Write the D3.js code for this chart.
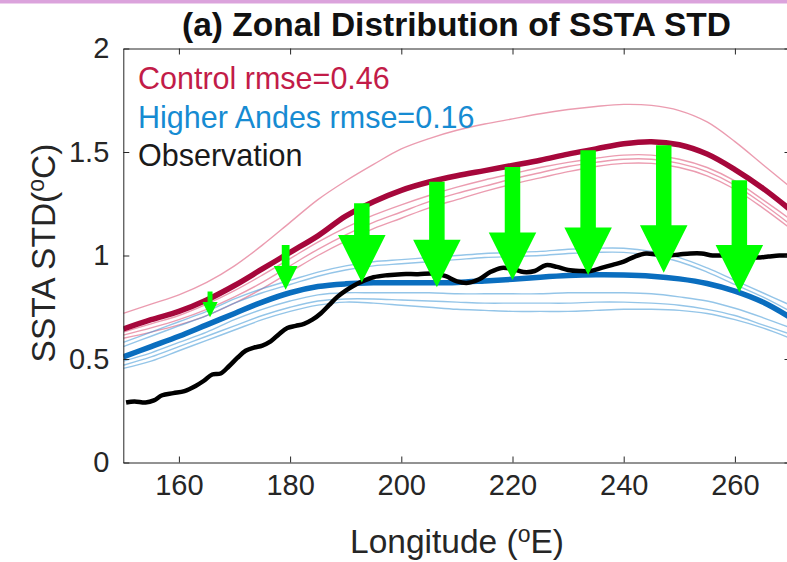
<!DOCTYPE html>
<html>
<head>
<meta charset="utf-8">
<script src="https://cdn.jsdelivr.net/npm/d3@7"></script>
<style>
  html, body { margin: 0; padding: 0; background: #fff; overflow: hidden; }
  text { font-family: "Liberation Sans", Arial, Helvetica, sans-serif; }
</style>
</head>
<body>
<svg id="chart" width="787" height="562"></svg>
<script>
// Longitude grid (°E) shared by the model curves
const lon = [150,155,160,165,170,175,180,185,190,195,200,205,210,215,220,225,230,235,240,245,250,255,260,265,270];

// Control ensemble mean and individual members (SSTA STD, °C)
const controlMean = [0.645,0.69,0.73,0.785,0.855,0.935,1.015,1.095,1.19,1.26,1.315,1.355,1.385,1.41,1.435,1.46,1.49,1.515,1.54,1.55,1.535,1.49,1.415,1.325,1.22];
const controlRun1 = [0.72,0.765,0.81,0.87,0.95,1.05,1.16,1.27,1.36,1.44,1.515,1.565,1.605,1.635,1.66,1.685,1.705,1.72,1.73,1.725,1.70,1.645,1.55,1.44,1.33];
const controlRun2 = [0.63,0.67,0.71,0.765,0.83,0.905,0.985,1.065,1.135,1.195,1.245,1.29,1.33,1.365,1.395,1.425,1.45,1.47,1.485,1.485,1.465,1.425,1.36,1.27,1.175];
const controlRun3 = [0.615,0.65,0.69,0.74,0.80,0.87,0.95,1.03,1.10,1.16,1.21,1.26,1.30,1.335,1.37,1.40,1.43,1.45,1.465,1.465,1.445,1.405,1.34,1.25,1.15];
const controlRun4 = [0.60,0.63,0.665,0.71,0.77,0.84,0.92,1.00,1.07,1.13,1.18,1.23,1.27,1.31,1.345,1.375,1.405,1.43,1.445,1.445,1.425,1.385,1.32,1.23,1.13];

// Higher Andes ensemble mean and individual members
const andesMean = [0.51,0.56,0.61,0.665,0.72,0.775,0.82,0.85,0.863,0.868,0.868,0.868,0.87,0.877,0.885,0.895,0.903,0.907,0.906,0.90,0.887,0.865,0.828,0.775,0.70];
const andesRun1 = [0.58,0.63,0.68,0.73,0.79,0.84,0.88,0.92,0.95,0.97,0.98,0.99,1.00,1.01,1.015,1.02,1.03,1.035,1.035,1.02,0.99,0.94,0.88,0.82,0.76];
const andesRun2 = [0.56,0.61,0.66,0.71,0.77,0.82,0.86,0.90,0.93,0.95,0.96,0.97,0.98,0.99,0.995,1.00,1.01,1.015,1.015,1.00,0.97,0.92,0.86,0.80,0.73];
const andesRun3 = [0.49,0.53,0.58,0.63,0.69,0.74,0.78,0.81,0.82,0.82,0.82,0.82,0.815,0.815,0.815,0.815,0.82,0.82,0.82,0.815,0.80,0.78,0.745,0.70,0.65];
const andesRun4 = [0.47,0.51,0.56,0.61,0.66,0.71,0.75,0.78,0.79,0.79,0.785,0.78,0.775,0.77,0.77,0.77,0.77,0.775,0.775,0.77,0.76,0.74,0.71,0.665,0.62];
const andesRun5 = [0.455,0.49,0.54,0.59,0.64,0.69,0.73,0.76,0.775,0.77,0.76,0.75,0.74,0.735,0.73,0.73,0.73,0.735,0.74,0.74,0.735,0.72,0.69,0.65,0.60];

// Observed SSTA STD along the equator
const obsLon = [150.5,152,154,155.5,157,159,161,163,164.5,166,167.5,169,170.5,172,173.5,175,176.5,178,179.5,181,182.5,184,185.5,187,188.5,190,191.5,193,195,197.5,200,203,206,208,210,212,214,216,218,220,222,224,226,228,230,232,234,236,238,240,242,244,246,248,250,252,254,256,258,260,262,264,266,268,270];
const obsStd = [0.29,0.295,0.29,0.30,0.325,0.335,0.345,0.37,0.395,0.425,0.43,0.465,0.505,0.54,0.555,0.565,0.585,0.62,0.65,0.66,0.67,0.69,0.72,0.76,0.80,0.83,0.855,0.875,0.895,0.905,0.91,0.91,0.912,0.90,0.875,0.868,0.885,0.92,0.94,0.935,0.92,0.925,0.953,0.945,0.93,0.925,0.925,0.94,0.955,0.97,0.995,1.01,1.005,1.0,1.005,1.01,1.01,1.0,1.0,0.995,0.99,0.99,0.995,1.0,1.0];

// Reduction arrows: longitude, start (Control) and end (Higher Andes) values
const arrowLon  = [165.6,179.2,192.9,206.4,220.0,233.6,247.2,260.8];
const arrowFrom = [0.826,1.051,1.252,1.356,1.428,1.508,1.533,1.364];
const arrowTo   = [0.702,0.834,0.869,0.847,0.882,0.906,0.917,0.821];

// Axis ticks and labels
const xTicks = [160,180,200,220,240,260];
const yTicks = [0,0.5,1,1.5,2];
const yTickLabels = ["0","0.5","1","1.5","2"];
const legendLabels = ["Control rmse=0.46","Higher Andes rmse=0.16","Observation"];

// ---- drawing ----
const svg = d3.select("#chart");
const x = d3.scaleLinear().domain([150,270]).range([123.3,790.5]);
const y = d3.scaleLinear().domain([0,2]).range([462.5,48.5]);

// thin band along the top edge
svg.append("rect").attr("x",0).attr("y",0).attr("width",787).attr("height",3.5).attr("fill","#dba3dc");

svg.append("defs").append("clipPath").attr("id","plotClip")
  .append("rect").attr("x",x(150)).attr("y",y(2)).attr("width",x(270)-x(150)).attr("height",y(0)-y(2));

const plot = svg.append("g").attr("clip-path","url(#plotClip)");
const line = d3.line().x(d => x(d[0])).y(d => y(d[1])).curve(d3.curveCatmullRom.alpha(0.5));
const pairs = vals => lon.map((l,i) => [l, vals[i]]);

[controlRun1,controlRun2,controlRun3,controlRun4].forEach(run => {
  plot.append("path").attr("d", line(pairs(run)))
    .attr("fill","none").attr("stroke","#de5a7c").attr("stroke-opacity",0.6).attr("stroke-width",1.4);
});
[andesRun1,andesRun2,andesRun3,andesRun4,andesRun5].forEach(run => {
  plot.append("path").attr("d", line(pairs(run)))
    .attr("fill","none").attr("stroke","#3d96d6").attr("stroke-opacity",0.55).attr("stroke-width",1.4);
});
plot.append("path").attr("d", line(pairs(controlMean)))
  .attr("fill","none").attr("stroke","#a6073b").attr("stroke-width",5.5);
plot.append("path").attr("d", line(pairs(andesMean)))
  .attr("fill","none").attr("stroke","#0a6ebf").attr("stroke-width",5.5);
plot.append("path").attr("d", line(obsLon.map((l,i) => [l, obsStd[i]])))
  .attr("fill","none").attr("stroke","#000").attr("stroke-width",4.5).attr("stroke-linejoin","round");

// arrows: relative head size of each arrow
const arrowSize = [0.32,0.5,1,1,1,1,1,1];
arrowLon.forEach((l,i) => {
  const cx = x(l), y0 = y(arrowFrom[i]), y1 = y(arrowTo[i]), s = arrowSize[i];
  const sw = 15.5*s/2, hw = 47.5*s/2, hl = 47.5*s;
  const pts = [[cx-sw,y0],[cx+sw,y0],[cx+sw,y1-hl],[cx+hw,y1-hl],[cx,y1],[cx-hw,y1-hl],[cx-sw,y1-hl]];
  svg.append("polygon").attr("points", pts.map(p => p.join(",")).join(" ")).attr("fill","#00ff00");
});

// axes (ticks point inward)
const axisColor = "#262626";
const styleAxis = g => {
  g.select(".domain").attr("stroke",axisColor).attr("stroke-width",1);
  g.selectAll(".tick line").attr("stroke",axisColor).attr("stroke-width",1);
  g.selectAll(".tick text").attr("fill",axisColor).style("font-size","29px")
    .style("font-family","'Liberation Sans', Arial, sans-serif");
};
svg.append("g").attr("transform",`translate(0,${y(0)})`)
  .call(d3.axisBottom(x).tickValues(xTicks).tickFormat(d3.format("d")).tickSizeInner(-6).tickSizeOuter(0).tickPadding(12))
  .call(styleAxis);
svg.append("g").attr("transform",`translate(0,${y(2)})`)
  .call(d3.axisTop(x).tickValues(xTicks).tickFormat("").tickSizeInner(-6).tickSizeOuter(0))
  .call(styleAxis);
svg.append("g").attr("transform",`translate(${x(150)},0)`)
  .call(d3.axisLeft(y).tickValues(yTicks).tickFormat((d,i) => yTickLabels[i]).tickSizeInner(-6).tickSizeOuter(0).tickPadding(14))
  .call(styleAxis);
svg.append("g").attr("transform",`translate(${x(270)},0)`)
  .call(d3.axisRight(y).tickValues(yTicks).tickFormat("").tickSizeInner(-6).tickSizeOuter(0))
  .call(styleAxis);

// legend text
const legendColors = ["#c21c48","#168bd2","#1a1a1a"];
legendLabels.forEach((t,i) => {
  svg.append("text").attr("x",138).attr("y",89 + i*38.5)
    .attr("fill",legendColors[i]).style("font-size","30.5px").text(t);
});

// title
svg.append("text").attr("x",456.5).attr("y",36).attr("text-anchor","middle")
  .attr("fill","#111").style("font-size","33.5px").style("font-weight","bold")
  .text("(a) Zonal Distribution of SSTA STD");

// x-axis label with superscript degree
const xl = svg.append("text").attr("x",457).attr("y",553).attr("text-anchor","middle")
  .attr("fill",axisColor).style("font-size","33.5px");
xl.append("tspan").text("Longitude (");
xl.append("tspan").attr("dy",-11).style("font-size","23px").text("o");
xl.append("tspan").attr("dy",11).text("E)");

// y-axis label
const yl = svg.append("text").attr("transform",`translate(55,253) rotate(-90)`).attr("text-anchor","middle")
  .attr("fill",axisColor).style("font-size","33.5px");
yl.append("tspan").text("SSTA STD(");
yl.append("tspan").attr("dy",-11).style("font-size","23px").text("o");
yl.append("tspan").attr("dy",11).text("C)");
</script>
</body>
</html>
